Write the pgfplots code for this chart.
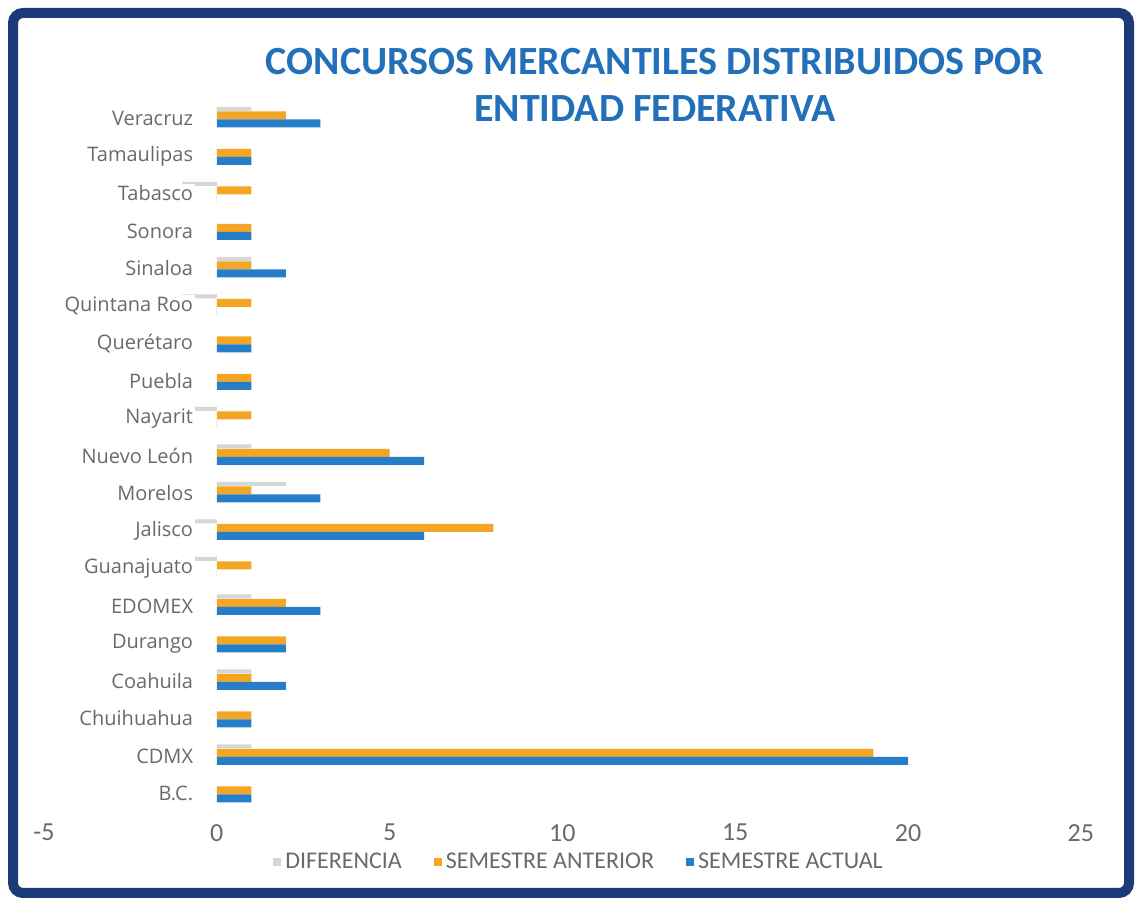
\documentclass[border=0pt]{standalone}
\usepackage{fontspec}
\setmainfont{Carlito}
\newfontfamily\catfont{Open Sans}
\usepackage{pgfplots}
\pgfplotsset{compat=1.18}

\definecolor{frameblue}{HTML}{1B3A78}
\definecolor{titleblue}{HTML}{2370BA}
\definecolor{dif}{HTML}{D6D6D6}
\definecolor{ant}{HTML}{F3A623}
\definecolor{act}{HTML}{267DC8}
\definecolor{txtgray}{HTML}{6A6A6A}

\begin{document}
\begin{tikzpicture}
\useasboundingbox (0,0) rectangle (567.5pt,449pt);
\fill[white] (0,0) rectangle (567.5pt,449pt);
\begin{axis}[
  at={(22pt,44.4pt)}, anchor=south west,
  scale only axis, width=518.4pt, height=356.25pt,
  axis on top,
  xbar, bar width=4pt,
  xmin=-5, xmax=25, xtick={-5,0,...,25},
  ymin=-0.5, ymax=18.5,
  ytick={0,...,18},
  yticklabels={B.C., CDMX, Chuihuahua, Coahuila, Durango, EDOMEX, Guanajuato,
    Jalisco, Morelos, Nuevo León, Nayarit, Puebla, Querétaro, Quintana Roo,
    Sinaloa, Sonora, Tabasco, Tamaulipas, Veracruz},
  axis line style={draw=none}, tick style={draw=none},
  yticklabel style={font=\catfont\fontsize{10}{12}\selectfont, text=txtgray,
    fill=white, inner sep=1pt, xshift=80pt, yshift=-1.5pt},
  xticklabel style={font=\fontsize{13}{15}\selectfont, text=txtgray, yshift=-4pt},
  /pgf/number format/assume math mode=true,
  legend style={at={(0.517,-0.074)}, anchor=center, draw=none, fill=none,
    legend columns=3, font=\fontsize{12}{14}\selectfont, text=txtgray,
    /tikz/every even column/.append style={column sep=14pt}},
  legend image code/.code={\fill[#1] (0pt,-2pt) rectangle (4pt,2pt);},
]
\addplot[fill=dif, draw=none, bar width=2pt, bar shift=3.3pt] coordinates {
  (0,0) (1,1) (0,2) (1,3) (0,4) (1,5) (-1,6) (-2,7) (2,8) (1,9)
  (-1,10) (0,11) (0,12) (-1,13) (1,14) (0,15) (-1,16) (0,17) (1,18)};
\addlegendentry{DIFERENCIA}
\addplot[fill=ant, draw=none, bar shift=0pt] coordinates {
  (1,0) (19,1) (1,2) (1,3) (2,4) (2,5) (1,6) (8,7) (1,8) (5,9)
  (1,10) (1,11) (1,12) (1,13) (1,14) (1,15) (1,16) (1,17) (2,18)};
\addlegendentry{SEMESTRE ANTERIOR}
\addplot[fill=act, draw=none, bar shift=-4pt] coordinates {
  (1,0) (20,1) (1,2) (2,3) (2,4) (3,5) (0,6) (6,7) (3,8) (6,9)
  (0,10) (1,11) (1,12) (0,13) (2,14) (1,15) (0,16) (1,17) (3,18)};
\addlegendentry{SEMESTRE ACTUAL}
\end{axis}
\node[anchor=base, text=titleblue, font=\bfseries\fontsize{20}{24}\selectfont]
  at (327.5pt,411.5pt) {CONCURSOS MERCANTILES DISTRIBUIDOS POR};
\node[anchor=base, text=titleblue, font=\bfseries\fontsize{20}{24}\selectfont]
  at (327.5pt,388pt) {ENTIDAD FEDERATIVA};
\draw[frameblue, line width=5pt, rounded corners=5pt] (6.5pt,2.5pt) rectangle (564.5pt,442.5pt);
\end{tikzpicture}
\end{document}
